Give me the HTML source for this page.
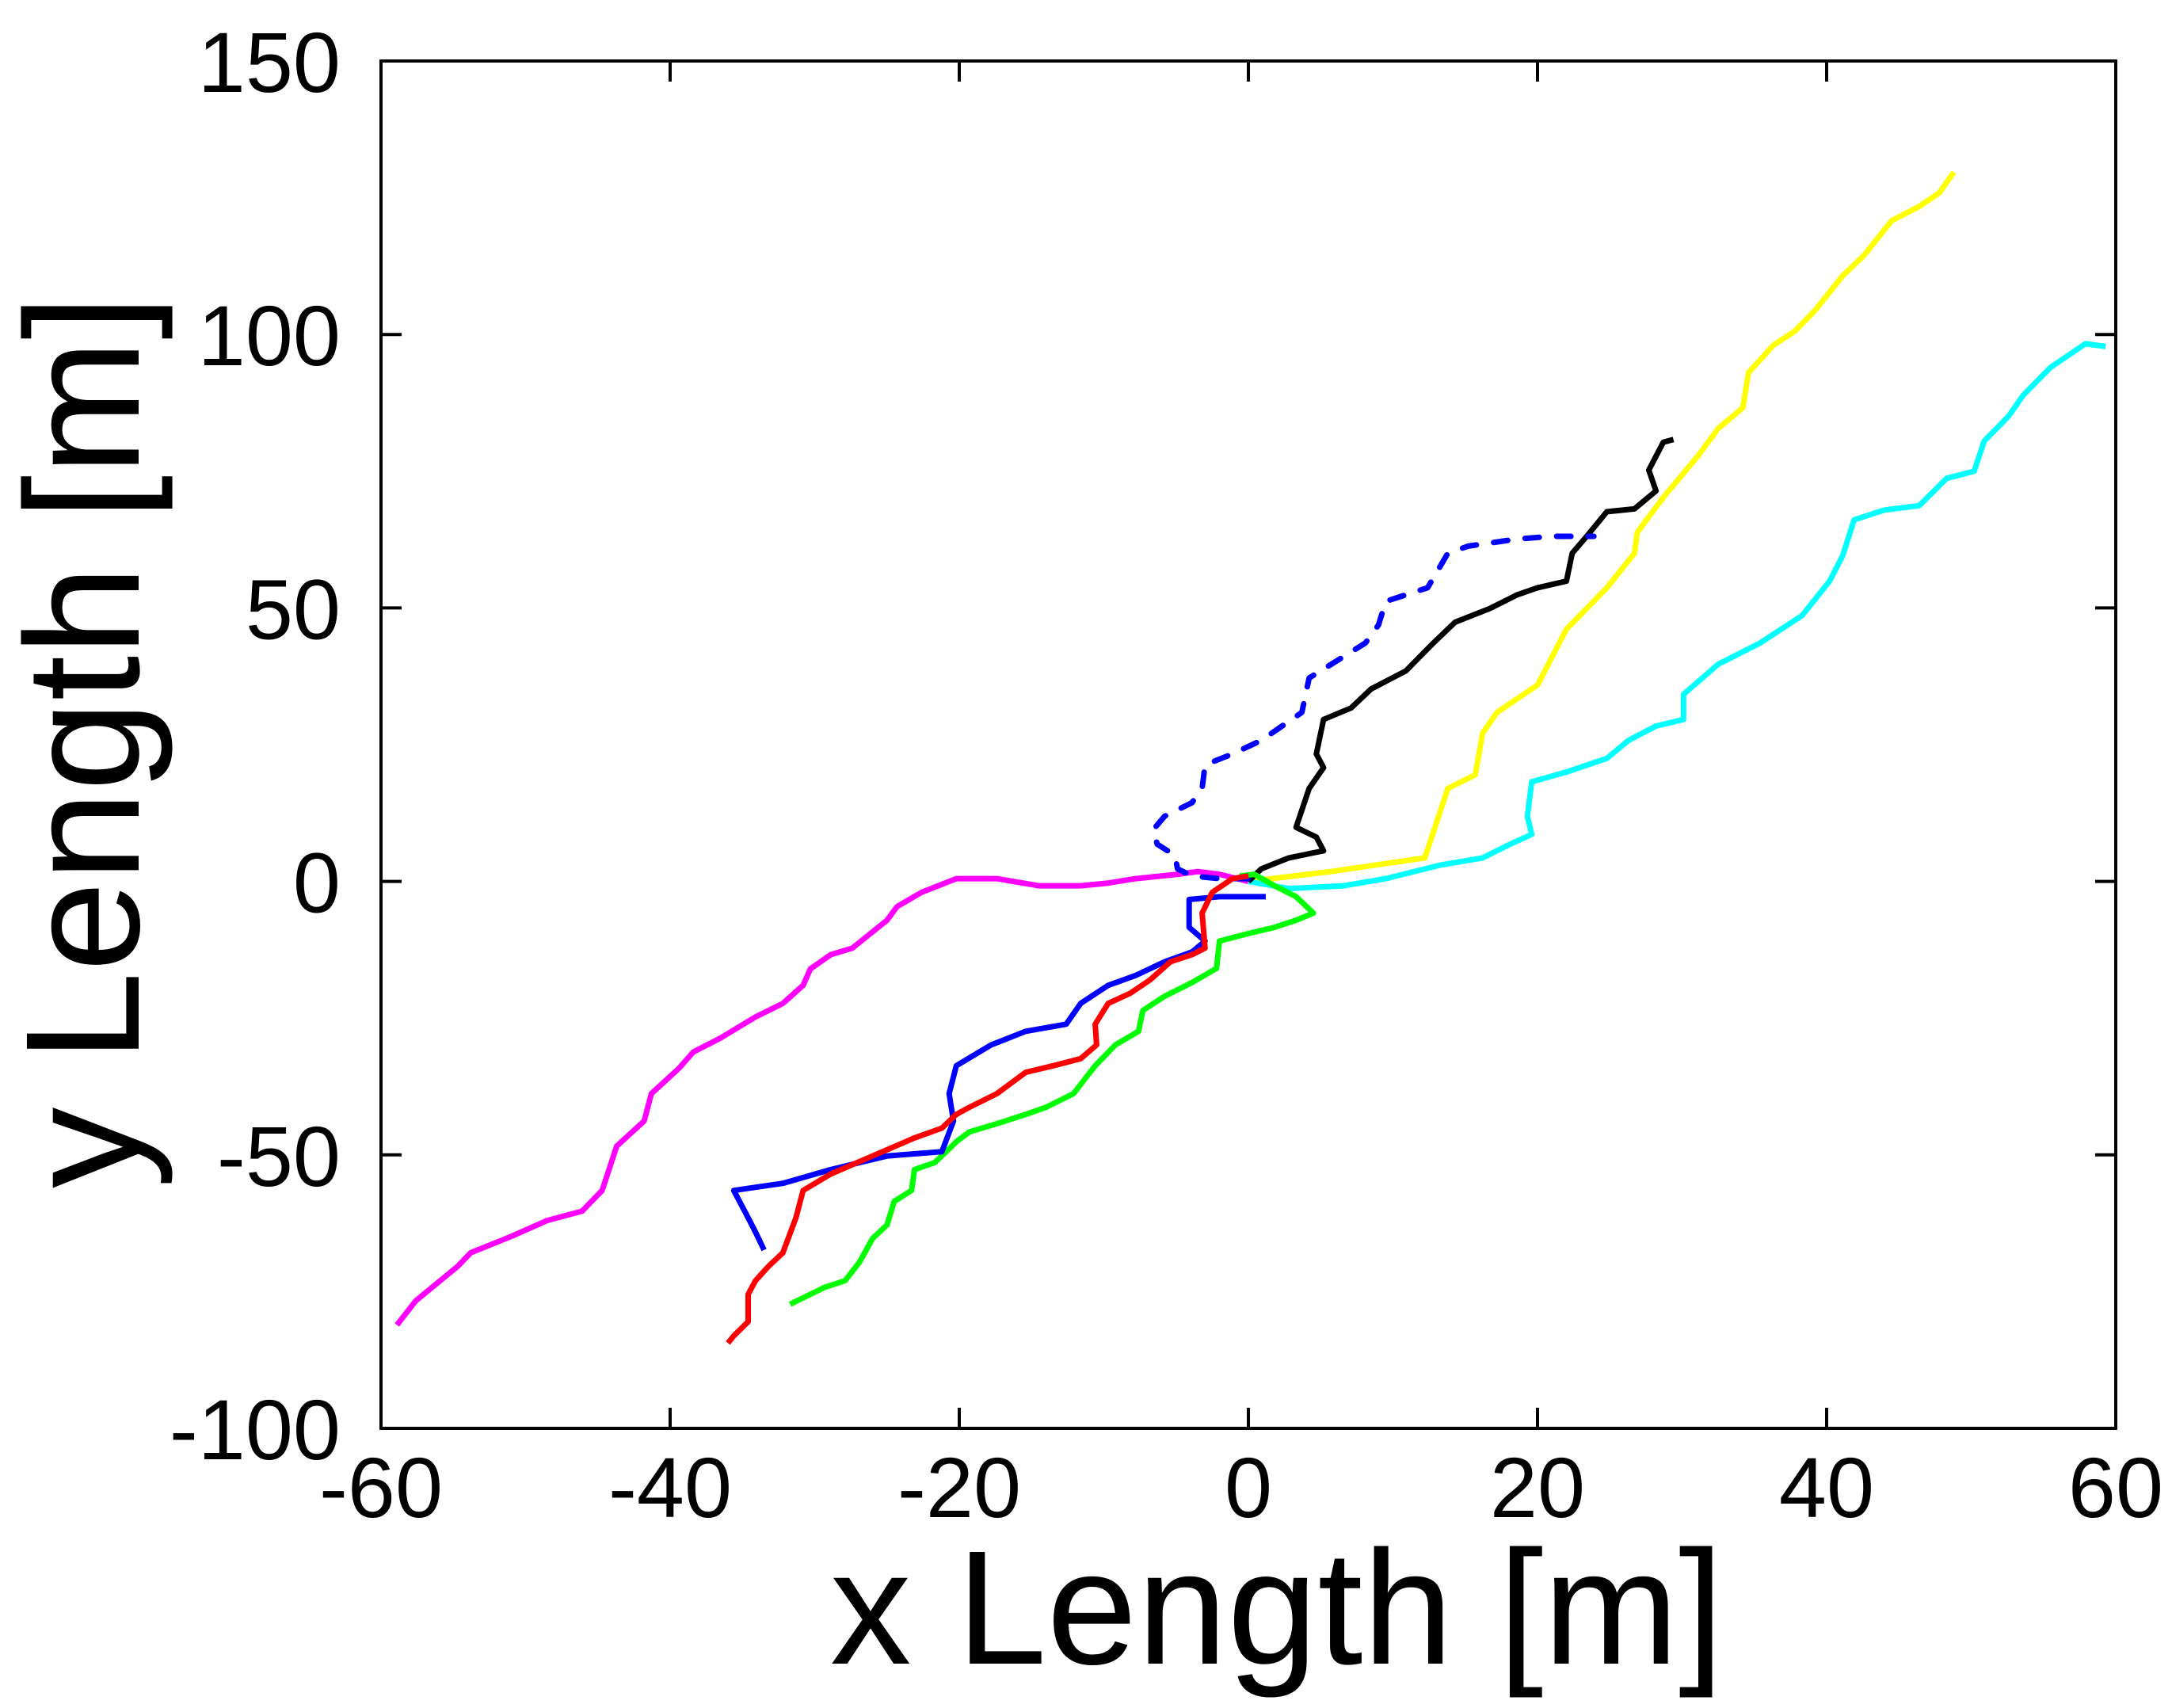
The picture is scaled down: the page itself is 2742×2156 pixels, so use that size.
<!DOCTYPE html>
<html><head><meta charset="utf-8"><style>
html,body{margin:0;padding:0;background:#fff;}
svg text{font-family:"Liberation Sans",sans-serif;fill:#000;}
</style></head><body>
<svg id="chart" width="2742" height="2151" viewBox="0 0 2742 2151" xmlns="http://www.w3.org/2000/svg">
<rect x="0" y="0" width="2742" height="2151" fill="#fff"/>
<g id="axes"></g>
<g id="series"></g>
<rect x="481" y="77" width="2190" height="1726" fill="none" stroke="#000" stroke-width="4"/>
<text x="1612" y="2100" font-size="205" text-anchor="middle">x Length [m]</text>
<text transform="translate(175,936) rotate(-90)" font-size="205" text-anchor="middle">y Length [m]</text>
</svg>
<script>
const xTicks=[-60,-40,-20,0,20,40,60];
const yTicks=[-100,-50,0,50,100,150];
const magentaX=[-58.9,-57.6,-54.7,-53.8,-50.9,-48.5,-46.1,-44.7,-43.7,-41.8,-41.3,-39.4,-38.4,-36.5,-34.1,-32.2,-30.8,-30.3,-28.9,-27.4,-25.0,-24.3,-22.6,-20.2,-17.4,-14.5,-11.6,-9.7,-7.8,-4.9,-3.5,-2.0,0];
const magentaY=[-81.1,-76.7,-70.4,-67.9,-64.8,-62.0,-60.3,-56.5,-48.4,-43.8,-38.8,-34.2,-31.2,-28.6,-24.8,-22.3,-19.0,-16.0,-13.4,-12.2,-7.1,-4.6,-2.0,0.5,0.5,-0.8,-0.8,-0.3,0.5,1.3,1.8,1.3,0];
const yellowX=[0,5.7,12.2,13.8,15.7,16.2,17.2,20.0,22.0,24.8,26.7,26.9,28.7,31.1,32.5,34.2,34.6,36.3,37.8,39.2,41.1,42.6,44.5,46.4,47.8,48.8];
const yellowY=[0,1.8,4.3,17.0,19.5,27.1,30.9,35.9,46.1,53.7,60.0,63.8,70.2,77.8,82.8,86.6,93.0,98.0,100.6,104.4,110.7,114.5,120.8,123.4,125.9,129.7];
const cyanX=[0,2.8,6.6,9.5,13.3,16.2,18.1,19.6,19.3,19.6,22.0,24.8,26.3,28.2,30.1,30.1,32.5,35.4,38.3,40.2,41.1,41.9,44.0,46.4,48.3,50.2,50.9,52.6,53.6,55.5,57.9,59.3];
const cyanY=[0,-1.3,-0.8,0.5,3.0,4.3,6.8,8.6,11.9,18.2,20.0,22.5,25.8,28.4,29.6,34.2,39.7,43.6,48.6,54.9,59.5,66.1,67.9,68.7,73.7,75.0,80.5,85.1,88.9,94.0,98.3,97.8];
const blackX=[0,0.9,2.8,5.2,4.7,3.3,4.2,5.2,4.7,5.2,7.1,8.5,10.9,12.8,14.3,16.7,18.6,20.0,22.0,22.4,23.4,24.8,26.7,28.2,27.7,28.7,29.4];
const blackY=[0,2.3,4.3,5.6,8.1,9.9,17.0,20.8,23.3,29.6,31.7,35.2,38.5,43.6,47.4,49.9,52.4,53.7,54.9,60.0,63.1,67.6,68.1,71.4,75.2,80.3,80.8];
const dashedX=[0,-2.0,-3.9,-4.9,-5.1,-6.3,-6.6,-5.8,-3.9,-3.2,-3.0,-1.1,0.9,3.7,4.2,6.1,8.1,9.0,9.5,12.4,13.8,15.2,18.6,21.0,23.9];
const dashedY=[0.5,0.5,1.0,2.3,4.8,6.8,9.4,11.9,14.4,17.0,21.3,23.3,25.8,30.9,37.2,40.3,43.6,46.9,51.2,53.7,60.0,61.3,62.6,63.1,63.1];
const blueX=[1.2,-2.0,-4.1,-4.1,-3.0,-3.9,-5.8,-7.8,-9.7,-11.6,-12.6,-15.4,-17.8,-20.2,-20.7,-20.4,-21.2,-25.0,-28.9,-32.2,-35.6,-34.6,-34.1,-33.5];
const blueY=[-2.8,-2.8,-3.3,-8.4,-10.9,-12.9,-14.7,-17.2,-19.0,-22.3,-26.1,-27.4,-29.9,-33.7,-38.8,-43.8,-49.4,-50.2,-52.7,-55.2,-56.5,-61.5,-64.1,-67.4];
const redX=[0,-1.1,-2.5,-3.2,-3.0,-3.9,-5.4,-6.8,-8.2,-9.7,-10.6,-10.5,-11.6,-13.5,-15.4,-17.4,-19.3,-20.2,-21.2,-23.1,-26.0,-28.9,-30.8,-31.3,-32.2,-33.2,-34.1,-34.6,-34.6,-35.6,-36.0];
const redY=[1.0,0.5,-2.0,-5.8,-12.2,-13.4,-14.7,-18.0,-20.5,-22.3,-26.1,-29.9,-32.4,-33.7,-34.9,-38.8,-41.3,-42.6,-45.1,-46.9,-50.2,-53.5,-56.5,-61.5,-67.9,-70.4,-73.0,-75.5,-80.5,-83.1,-84.4];
const greenX=[-0.6,0.4,1.8,3.3,4.5,3.3,1.8,-0.1,-2.0,-2.2,-3.9,-5.8,-7.3,-7.6,-9.2,-10.6,-12.1,-14.0,-15.4,-17.4,-19.3,-20.2,-20.7,-21.7,-23.1,-23.3,-24.5,-25.0,-26.0,-26.9,-27.9,-29.3,-31.7];
const greenY=[1.0,1.3,-0.8,-2.8,-5.8,-7.1,-8.4,-9.6,-10.9,-15.9,-18.5,-21.0,-23.6,-27.4,-29.9,-33.7,-38.8,-41.3,-42.6,-44.3,-45.8,-47.6,-48.9,-51.4,-52.7,-56.5,-58.5,-62.8,-65.3,-69.6,-73.0,-74.2,-77.3];

const L=481,R=2671,T=77,B=1803;
const sx=v=>L+(v+60)/120*(R-L);
const sy=v=>B-(v+100)/250*(B-T);
const NS='http://www.w3.org/2000/svg';
const axes=document.getElementById('axes');
const series=document.getElementById('series');
function mk(tag,attrs,parent){const e=document.createElementNS(NS,tag);for(const k in attrs)e.setAttribute(k,attrs[k]);parent.appendChild(e);return e;}
xTicks.forEach(v=>{
  const x=sx(v);
  const t1=mk('line',{x1:x,y1:B,x2:x,y2:B-26,stroke:'#000','stroke-width':4},axes);
  
  
  const t2=mk('line',{x1:x,y1:T,x2:x,y2:T+26,stroke:'#000','stroke-width':4},axes);
  
  
  const tx=mk('text',{x:x,y:1915,'font-size':108,'text-anchor':'middle'},axes);
  tx.textContent=String(v);
  
  
});
yTicks.forEach(v=>{
  const y=sy(v);
  const t1=mk('line',{x1:L,y1:y,x2:L+26,y2:y,stroke:'#000','stroke-width':4},axes);
  
  
  const t2=mk('line',{x1:R,y1:y,x2:R-26,y2:y,stroke:'#000','stroke-width':4},axes);
  
  
  const tx=mk('text',{x:430,y:y+39,'font-size':108,'text-anchor':'end'},axes);
  tx.textContent=String(v);
  
  
});
function line(xs,ys,color,name,dash){
  const d=xs.map((v,i)=>(i?'L':'M')+sx(v).toFixed(1)+','+sy(ys[i]).toFixed(1)).join(' ');
  const p=mk('path',{d:d,fill:'none',stroke:color,'stroke-width':7,'stroke-linejoin':'round','stroke-linecap':dash?'round':'butt'},series);
  if(dash)p.setAttribute('stroke-dasharray','18 22');
  
  
}
line(magentaX,magentaY,'#ff00ff','magenta-trajectory');
line(yellowX,yellowY,'#ffff00','yellow-trajectory');
line(cyanX,cyanY,'#00ffff','cyan-trajectory');
line(blackX,blackY,'#000000','black-trajectory');
line(dashedX,dashedY,'#0000ff','blue-dashed-trajectory',true);
line(greenX,greenY,'#00ff00','green-trajectory');
line(blueX,blueY,'#0000ff','blue-trajectory');
line(redX,redY,'#ff0000','red-trajectory');
</script>
</body></html>
